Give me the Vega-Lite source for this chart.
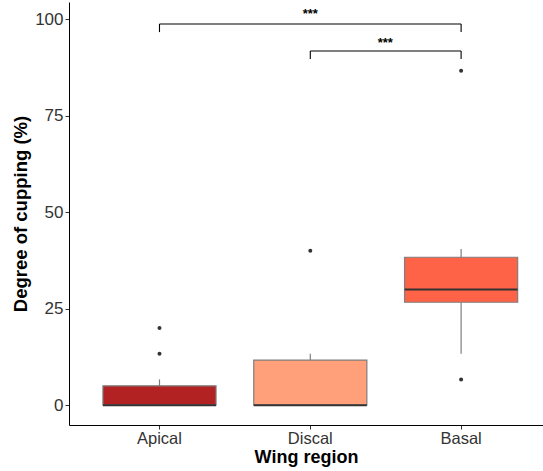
{
  "$schema": "https://vega.github.io/schema/vega-lite/v6.json",
  "autosize": {"type": "none"},
  "padding": {"left": 69, "top": 2, "right": 0, "bottom": 46},
  "width": 474,
  "height": 423,
  "background": "white",
  "config": {
    "view": {"stroke": null},
    "font": "Liberation Sans",
    "axis": {"grid": false, "domainColor": "#000000", "tickColor": "#333333", "labelColor": "#333333", "titleColor": "#000000", "labelFont": "Liberation Sans", "titleFont": "Liberation Sans"}
  },
  "datasets": {
    "stats": [
      {"region": "Apical", "lower": 0, "q1": 0, "median": 0, "q3": 5, "upper": 6.67},
      {"region": "Discal", "lower": 0, "q1": 0, "median": 0, "q3": 11.67, "upper": 13.33},
      {"region": "Basal", "lower": 13.33, "q1": 26.67, "median": 30, "q3": 38.33, "upper": 40.5}
    ],
    "outliers": [
      {"region": "Apical", "value": 13.33},
      {"region": "Apical", "value": 20},
      {"region": "Discal", "value": 40},
      {"region": "Basal", "value": 86.67},
      {"region": "Basal", "value": 6.67}
    ],
    "brackets": [
      {"from": "Apical", "to": "Basal", "y": 98.8, "tip": 96.7, "label": "***", "mid": "Discal", "ty": 101.3, "shift": 0},
      {"from": "Discal", "to": "Basal", "y": 91.8, "tip": 89.7, "label": "***", "mid": "Discal", "ty": 94.0, "shift": 1}
    ]
  },
  "encoding": {
    "x": {
      "field": "region", "type": "nominal",
      "sort": ["Apical", "Discal", "Basal"],
      "scale": {"domain": ["Apical", "Discal", "Basal"], "paddingInner": 0.25, "paddingOuter": 0.1965, "align": 0.5725},
      "axis": {"title": "Wing region", "labelAngle": 0, "labelFontSize": 16.5, "labelPadding": 1, "tickSize": 4, "titleFontSize": 18, "titleFontWeight": "bold", "titlePadding": 2, "domainWidth": 1}
    }
  },
  "layer": [
    {
      "data": {"name": "stats"},
      "mark": {"type": "rule", "color": "#7f7f7f", "strokeWidth": 1.2},
      "encoding": {
        "y": {"field": "lower", "type": "quantitative",
          "scale": {"domain": [-5.15, 104.5], "nice": false, "zero": false},
          "axis": {"title": "Degree of cupping (%)", "values": [0, 25, 50, 75, 100], "labelFontSize": 17, "labelPadding": 2, "tickSize": 4, "titleFontSize": 18.5, "titleFontWeight": "bold", "titlePadding": 4, "domainWidth": 1}},
        "y2": {"field": "upper"}
      }
    },
    {
      "data": {"name": "stats"},
      "mark": {"type": "bar", "stroke": "#7f7f7f", "strokeWidth": 1.2},
      "encoding": {
        "y": {"field": "q1", "type": "quantitative"},
        "y2": {"field": "q3"},
        "color": {"field": "region", "type": "nominal", "legend": null,
          "scale": {"domain": ["Apical", "Discal", "Basal"], "range": ["#B22222", "#FFA07A", "#FF6347"]}}
      }
    },
    {
      "data": {"name": "stats"},
      "mark": {"type": "tick", "color": "#333333", "thickness": 2, "size": 113, "opacity": 1},
      "encoding": {
        "y": {"field": "median", "type": "quantitative"}
      }
    },
    {
      "data": {"name": "outliers"},
      "mark": {"type": "circle", "color": "#333333", "size": 16, "opacity": 1},
      "encoding": {
        "y": {"field": "value", "type": "quantitative"}
      }
    },
    {
      "data": {"name": "brackets"},
      "mark": {"type": "rule", "color": "#000000", "strokeWidth": 1.1},
      "encoding": {
        "x": {"field": "from", "type": "nominal"},
        "x2": {"field": "to"},
        "y": {"field": "y", "type": "quantitative"}
      }
    },
    {
      "data": {"name": "brackets"},
      "mark": {"type": "rule", "color": "#000000", "strokeWidth": 1.1},
      "encoding": {
        "x": {"field": "from", "type": "nominal"},
        "y": {"field": "y", "type": "quantitative"},
        "y2": {"field": "tip"}
      }
    },
    {
      "data": {"name": "brackets"},
      "mark": {"type": "rule", "color": "#000000", "strokeWidth": 1.1},
      "encoding": {
        "x": {"field": "to", "type": "nominal"},
        "y": {"field": "y", "type": "quantitative"},
        "y2": {"field": "tip"}
      }
    },
    {
      "data": {"name": "brackets"},
      "transform": [{"filter": "datum.shift == 0"}],
      "mark": {"type": "text", "fontSize": 13, "fontWeight": "bold", "color": "#000000", "baseline": "middle"},
      "encoding": {
        "x": {"field": "mid", "type": "nominal"},
        "y": {"field": "ty", "type": "quantitative"},
        "text": {"field": "label"}
      }
    },
    {
      "data": {"name": "brackets"},
      "transform": [{"filter": "datum.shift == 1"}],
      "mark": {"type": "text", "fontSize": 13, "fontWeight": "bold", "color": "#000000", "baseline": "middle", "dx": 75},
      "encoding": {
        "x": {"field": "mid", "type": "nominal"},
        "y": {"field": "ty", "type": "quantitative"},
        "text": {"field": "label"}
      }
    }
  ]
}
